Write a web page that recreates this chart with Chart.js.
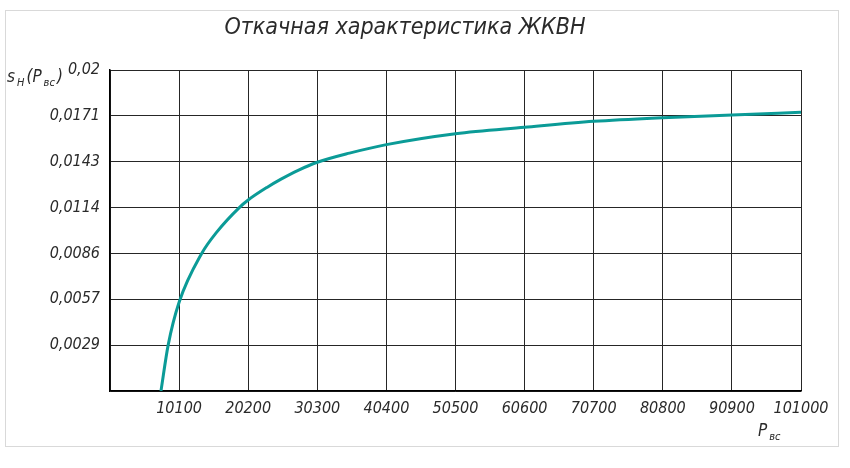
<!DOCTYPE html>
<html>
<head>
<meta charset="utf-8">
<script src="https://cdn.jsdelivr.net/npm/chart.js@4/dist/chart.umd.min.js"></script>
<style>
  html, body { margin: 0; padding: 0; background: #fff; }
  #wrap { position: relative; width: 850px; height: 468px; }
  #frame { position: absolute; left: 5px; top: 10px; width: 834px; height: 437px;
           box-sizing: border-box; border: 1px solid #d9d9d9; }
  #chart { position: absolute; left: 0; top: 0; }
</style>
</head>
<body>
<div id="wrap">
  <div id="frame"></div>
  <canvas id="chart" width="850" height="468"></canvas>
</div>
<script>
/* pumping characteristic of the liquid-ring vacuum pump */

const TITLE = 'Откачная характеристика ЖКВН';

// P_вс, Pa
const pressure = [7450, 8500, 10100, 13400, 15600, 18900, 20200, 23000, 25000, 27500, 30300,
                  35000, 40400, 50500, 60600, 70700, 80800, 90900, 101000];
// s_H(P_вс)
const speed = [0, 0.00286, 0.00553, 0.00857, 0.0099, 0.01143, 0.0119, 0.0127, 0.0132, 0.01375, 0.01425,
               0.01482, 0.01535, 0.01603, 0.01643, 0.0168, 0.01703, 0.0172, 0.01736];

const xTickValues = [0, 10100, 20200, 30300, 40400, 50500, 60600, 70700, 80800, 90900, 101000];
const xTickLabels = ['', '10100', '20200', '30300', '40400', '50500', '60600', '70700', '80800', '90900', '101000'];
const yTickValues = [0, 0.02 / 7, 0.04 / 7, 0.06 / 7, 0.08 / 7, 0.1 / 7, 0.12 / 7, 0.02];
const yTickLabels = ['', '0,0029', '0,0057', '0,0086', '0,0114', '0,0143', '0,0171', '0,02'];

const FONT = '"DejaVu Sans Condensed", "DejaVu Sans", sans-serif';
const TEXT = '#2a2a2a';
const GRID = '#262626';

// text with subscripts: parts = [[text, isSub], ...]
function drawParts(ctx, parts, x, y) {
  for (const [t, sub] of parts) {
    ctx.font = 'italic ' + (sub ? 11 : 17) + 'px ' + FONT;
    ctx.fillText(t, x, sub ? y + 4 : y);
    x += ctx.measureText(t).width + 2;
  }
}

const labels = {
  id: 'labels',
  afterDraw(chart) {
    const ctx = chart.ctx;
    ctx.save();
    ctx.fillStyle = TEXT;
    ctx.textBaseline = 'alphabetic';
    ctx.textAlign = 'center';
    ctx.font = 'italic 23px ' + FONT;
    ctx.fillText(TITLE, 405, 34);
    ctx.textAlign = 'left';
    drawParts(ctx, [['s', false], ['H', true], ['(P', false], ['вс', true], [')', false]], 7, 82);
    drawParts(ctx, [['P', false], ['вс', true]], 758, 436);
    ctx.restore();
  }
};

new Chart(document.getElementById('chart'), {
  type: 'line',
  data: {
    datasets: [{
      data: pressure.map((p, i) => ({ x: p, y: speed[i] })),
      borderColor: '#0b9b97',
      borderWidth: 3,
      pointRadius: 0,
      fill: false,
      cubicInterpolationMode: 'monotone',
    }],
  },
  options: {
    responsive: false,
    animation: false,
    layout: { padding: { top: 70, right: 49, bottom: 0, left: 0 } },
    plugins: { legend: { display: false }, tooltip: { enabled: false }, title: { display: false } },
    scales: {
      x: {
        type: 'linear', min: 0, max: 101000,
        afterBuildTicks: s => { s.ticks = xTickValues.map(v => ({ value: v })); },
        afterFit: s => { s.height = 77; },
        grid: { color: GRID, lineWidth: 1, drawTicks: false },
        border: { color: '#000', width: 1.5 },
        ticks: {
          color: TEXT, padding: 8, maxRotation: 0, autoSkip: false,
          font: { family: FONT, size: 16, style: 'italic' },
          callback: (v, i) => xTickLabels[i],
        },
      },
      y: {
        min: 0, max: 0.02,
        afterBuildTicks: s => { s.ticks = yTickValues.map(v => ({ value: v })); },
        afterFit: s => { s.width = 110; },
        grid: { color: GRID, lineWidth: 1, drawTicks: false },
        border: { color: '#000', width: 1.5 },
        ticks: {
          color: TEXT, padding: 10, autoSkip: false,
          font: { family: FONT, size: 16, style: 'italic' },
          callback: (v, i) => yTickLabels[i],
        },
      },
    },
  },
  plugins: [labels],
});
</script>
</body>
</html>
